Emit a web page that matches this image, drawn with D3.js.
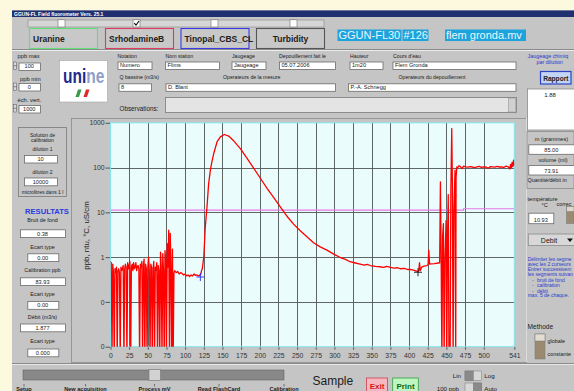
<!DOCTYPE html>
<html><head><meta charset="utf-8">
<script src="https://cdn.jsdelivr.net/npm/d3@7"></script>
<style>body{margin:0;background:#fdf9df;overflow:hidden} svg{display:block;font-family:"Liberation Sans",Arial,sans-serif}</style>
</head><body><svg id="c" width="574" height="391"></svg>
<script>
// ---------- DATA ----------
const xTicks = [0,25,50,75,100,125,150,175,200,225,250,275,300,325,350,375,400,425,450,475,500,541];
const yTicks = [0.01,0.1,1,10,100,1000];
const yTickLabels = ["0","0","1","10","100","1000"];
const sigX = [
 0,1,2,3,4,5,6,7,8,9,10,11,12,13,14,15,16,17,18,19,20,21,22,23,24,25,26,27,28,29,30,31,32,33,34,35,36,37,38,39,40,41,42,43,44,45,46,47,48,49,50,51,52,53,54,55,56,57,58,59,60,61,62,63,64,65,66,67,68,69,70,71,72,73,74,75,76,77,78,79,80,81,82,83,84,85,
 86,88,90,92,94,96,98,100,102,104,106,108,110,112,114,116,118,120,121,122,
 123,125,127,129.3,131.5,133.8,136,138.3,142.7,147.2,152.5,158.3,165,174,183,192,201,210,218.5,227.5,236.4,245.3,254.2,263.2,272,281,290,299,
 308,314,321,328,334.5,340,344,348,355,361,366,370,375,380,385,388,394,398,401.5,406,410,412,413,414,415,417,420,424,425.5,426.4,427.5,430,434,437,441,
 442,443,444,445,446,447,448,449.6,450.5,451.5,452.5,453.5,455,456,457.2,458,459,460,461.6,462.5,463,464,
 465,467,469,471,473,476,479,482,485,488,491,494,497,500,503,506,509,512,515,518,521,524,527,530,533,535,536,537,538,539,540,541];
const sigY = [
 0.8,0.75,0.005,0.7,0.45,0.005,0.55,0.45,0.6,0.005,0.5,0.55,0.45,0.005,0.6,0.5,0.55,0.65,0.005,0.55,0.7,0.6,0.005,0.75,0.55,0.65,0.8,0.005,0.6,0.7,0.5,0.75,0.55,0.6,0.75,0.5,0.62,0.65,0.55,0.005,0.7,0.6,0.8,0.005,0.65,0.9,0.005,0.7,0.55,0.005,0.6,1.0,0.5,0.005,0.7,0.6,0.005,0.55,0.8,0.005,0.6,0.5,0.75,0.005,0.65,0.5,0.005,1.3,0.6,0.005,1.2,0.5,0.005,1.4,0.8,0.005,2.0,0.6,4.0,0.005,3.4,0.7,0.005,1.5,0.005,0.45,
 0.5,0.45,0.48,0.42,0.45,0.43,0.4,0.42,0.38,0.4,0.37,0.4,0.38,0.42,0.39,0.4,0.38,0.4,0.42,0.5,
 0.55,1.0,4.75,13.3,44,88,140,206,373,486,548,505,396,266,160,96,57,34,21.5,13.3,8.2,5.45,3.87,2.84,2.09,1.70,1.43,1.17,
 0.98,0.9,0.79,0.74,0.70,0.66,0.69,0.65,0.62,0.61,0.59,0.62,0.59,0.57,0.58,0.55,0.56,0.53,0.53,0.51,0.49,0.48,0.5,0.75,0.5,0.6,0.63,0.65,0.68,1.43,0.7,0.71,0.72,0.73,0.75,
 48,0.9,0.005,3,5.6,0.005,0.8,6.5,0.005,2.5,25,0.005,0.005,30,745,50,0.005,10,88,0.005,60,103,
 98,110,104,95,108,104,102,105,103,100,104,106,101,104,103,97,105,104,102,106,103,104,100,108,104,93,118,100,130,105,147,110];
const refX = [0,473,473,541];
const refY = [11.2,11.2,12,12];
const cursorX = [120.4, 412];
const cursorY = [0.36, 0.46];
const cursorColors = ["#2030ff","#111"];
const dyes = ["Uranine","SrhodamineB","Tinopal_CBS_CL","Turbidity"];
const dyeChecked = [false,true,false,false];

// ---------- DRAW ----------
const svg = d3.select("#c");
const F = '"Liberation Sans",Arial,sans-serif';
function txt(x,y,s,size,opt={}){
  const t = svg.append("text").attr("x",x).attr("y",y).text(s)
    .attr("font-size",size).attr("fill",opt.fill||"#202020")
    .attr("text-anchor",opt.anchor||"start");
  if(opt.bold) t.attr("font-weight","bold");
  return t;
}
function box(x,y,w,h,fill,stroke,sw){
  return svg.append("rect").attr("x",x).attr("y",y).attr("width",w).attr("height",h)
    .attr("fill",fill).attr("stroke",stroke||"none").attr("stroke-width",sw||1);
}
function input(x,y,w,h,s,align){
  box(x+0.5,y+0.5,w,h,"#fff","#6a6a6a",0.8);
  const a = align||"center";
  txt(a==="center"?x+w/2:x+2.5, y+h-1.6, s, 5.6, {anchor:a==="center"?"middle":"start"});
}

// background & window
box(0,0,574,391,"#fdf9df");
box(12,10,562,381,"#c5c5c5");
box(12,10.5,562,6.5,"#1f2f70");
txt(14,15.8,"GGUN-FL Field fluorometer Vers. 25.1",5,{fill:"#fff",bold:true});

// checkbox bar
box(28,20,296,7,"#d6d6d6","#8a8a8a",0.6);
[58,133,211,290].forEach((cx,i)=>{
  box(cx,19.8,7,7.2,"#fff","#707070",0.6);
  if(dyeChecked[i]) svg.append("path").attr("d",`M${cx+1.3},${23.2} L${cx+3},${25.2} L${cx+6},${21}`)
     .attr("fill","none").attr("stroke","#000").attr("stroke-width",1.1);
});
// dye buttons
const dyeX=[29.5,105.5,181,256.5], dyeCol=["#5ee07a","#e03a60","#3a3ae6","#555"];
dyes.forEach((d,i)=>{
  box(dyeX[i],28.5,68,20,"#c8c8c8",dyeCol[i],1.1);
  if(i===3){ txt(dyeX[i]+34,41.5,d,8.5,{bold:true,anchor:"middle"}); }
  else txt(dyeX[i]+3.5,41.5,d,8.5,{bold:true});
});
// cyan labels
[[337.5,64,"GGUN-FL30"],[402.5,26,"#126"],[445,81,"flem gronda.mv"]].forEach(([x,w,s])=>{
  box(x,29.5,w,11.5,"#1ea4dc");
  txt(x+1,39.3,s,11,{fill:"#eaf6ff"});
});
// separator
svg.append("line").attr("x1",12).attr("x2",574).attr("y1",49.5).attr("y2",49.5).attr("stroke","#8a8a8a");
svg.append("line").attr("x1",12).attr("x2",574).attr("y1",50.5).attr("y2",50.5).attr("stroke","#ececec");

// form labels
const lab = 5.2;
txt(17.5,58,"ppb max",5.8);
txt(117.5,57.5,"Notation",lab); txt(165.5,57.5,"Nom station",lab); txt(232,57.5,"Jaugeage",lab);
txt(279,57.5,"Depouillement fait le",lab); txt(350,57.5,"Hauteur",lab); txt(393,57.5,"Cours d'eau",lab);
txt(527.5,57.5,"Jaugeage chimiq",5.4,{fill:"#2a3ad0"}); txt(536.5,64,"par dilution",5.4,{fill:"#2a3ad0"});
// spinners
[62,83,104.5].forEach(y=>{box(13.5,y,3,7.5,"#d8d8d8","#555",0.5); svg.append("line").attr("x1",13.5).attr("x2",16.5).attr("y1",y+3.75).attr("y2",y+3.75).attr("stroke","#333").attr("stroke-width",0.5);});
input(18.5,62.5,21.5,7.5,"100");
input(117.5,61.5,34,7.5,"Numero","left");
input(165,61.5,54,7.5,"Flims","left");
input(231.5,61.5,34,7.5,"Jaugeage","left");
input(279,61.5,56,7.5,"05.07.2006","left");
input(349.5,61.5,33,7.5,"1m20","left");
input(392.5,61.5,123,7.5,"Flem Gronda","left");
txt(20,80.7,"ppb min",5.8);
txt(119.5,79.3,"Q bassine (m3/s)",lab); txt(223,79.3,"Operateurs de la mesure",lab); txt(398.5,79.3,"Operateurs du depouillement",lab);
input(18.5,83,21.5,7.5,"0");
input(118.5,83.3,32.5,7.5,"8","left");
input(165.5,83.3,169.5,7.5,"D. Blant","left");
input(348,83.3,167.5,7.5,"P.-A. Schnegg","left");
txt(17.5,102.3,"éch. vert.",5.8);
input(18.5,105,21.5,7.5,"1000");
txt(119.5,111.3,"Observations:",6.3);
box(165.5,97.5,351,15,"#e4e4e4","#7a7a7a",0.8);
box(508.5,98,7,14,"#d0d0d0","#888",0.5);
// logo
box(59.5,60.5,48,41.5,"#fff","#9a9a9a",0.5);
const lg = svg.append("text").attr("transform","translate(63,83) scale(1,1.3)")
  .attr("font-size",15.5).attr("font-weight","bold");
lg.append("tspan").text("uni").attr("fill","#1c2a8c");
lg.append("tspan").text("ne").attr("fill","#8fa0c8");
svg.append("path").attr("d","M78,89.5 L81.5,89.5 L79,97 L75.5,97 Z").attr("fill","#3a9a4a");
svg.append("path").attr("d","M86,89.5 L89.5,89.5 L87,97 L83.5,97 Z").attr("fill","#e02a2a");
// Rapport + 1.88
box(540.5,71.5,30.5,12.5,"#c4d4f4","#2a44c8",1.2);
txt(555.8,80.8,"Rapport",6.6,{bold:true,anchor:"middle"});
box(527.5,89,47,41,"#fff","#8a8a8a",0.8);
txt(550,96.5,"1.88",6,{anchor:"middle"});

// chart panel frame
box(71.5,118.5,455,244,"none","#8a8a8a",0.8);
svg.append("line").attr("x1",526.5).attr("x2",526.5).attr("y1",118).attr("y2",362).attr("stroke","#eee").attr("stroke-width",0.8);

// left column
box(18.5,127.5,48,69,"none","#7a7a7a",0.8);
txt(42.5,136.7,"Solution de",5,{anchor:"middle"});
txt(42.5,142,"calibration",5,{anchor:"middle"});
txt(42.5,150.7,"dilution 1",5,{anchor:"middle"});
input(24,155,33,7.5,"10");
txt(42.5,174,"dilution 2",5,{anchor:"middle"});
input(24,177.5,33,7.8,"10000");
txt(42.5,194,"microlitres dans 1 l",5,{anchor:"middle"});
txt(47,213.7,"RESULTATS",7.6,{bold:true,fill:"#2a3ae0",anchor:"middle"});
const res = [["Bruit de fond",222.3,"0.38",229.3,true],["Ecart type",249.3,"0.00",253.3,false],
  ["Calibration ppb",272.3,"83.93",277.3,true],["Ecart type",295.7,"0.00",301,false],
  ["Débit (m3/s)",319,"1.877",323.5,true],["Ecart type",343.3,"0.000",348.5,false]];
res.forEach(([l,ly,v,vy,wide])=>{
  txt(42.5,ly,l,5.4,{anchor:"middle"});
  if(wide) input(20,vy,45,7.8,v); else input(27.3,vy,31,7.8,v);
});

// ---------- CHART ----------
const x = d3.scaleLinear().domain([0,541]).range([110.5,514.3]);
const y = d3.scaleLog().domain([0.01,1000]).range([346.7,122.8]);
const P = {l:110.5,r:514.3,t:122.8,b:346.7};
svg.append("defs").append("clipPath").attr("id","clip").append("rect")
  .attr("x",P.l).attr("y",P.t).attr("width",P.r-P.l).attr("height",P.b-P.t);
box(P.l,P.t,P.r-P.l,P.b-P.t,"#eafcfc");
const g = svg.append("g");
// grid
g.selectAll(".vg").data(xTicks.slice(1,-1)).join("line")
  .attr("x1",d=>Math.round(x(d))+0.5).attr("x2",d=>Math.round(x(d))+0.5).attr("y1",P.t).attr("y2",P.b)
  .attr("stroke","#4e5656").attr("stroke-width",0.9);
g.selectAll(".hg").data(yTicks.slice(1,-1)).join("line")
  .attr("x1",P.l).attr("x2",P.r).attr("y1",d=>Math.round(y(d))+0.5).attr("y2",d=>Math.round(y(d))+0.5)
  .attr("stroke","#4e5656").attr("stroke-width",0.9);
// axes
const ya = d3.axisLeft(y).tickValues(yTicks).tickFormat((d,i)=>yTickLabels[i]).tickSize(5).tickPadding(1);
const xa = d3.axisBottom(x).tickValues(xTicks).tickFormat(d3.format("d")).tickSize(3).tickPadding(3);
const gy = svg.append("g").attr("transform",`translate(${P.l},0)`).call(ya);
const gx = svg.append("g").attr("transform",`translate(0,${P.b})`).call(xa);
[gy,gx].forEach(a=>{a.select(".domain").remove(); a.selectAll("line").attr("stroke","#555");
  a.selectAll("text").attr("font-size",6.8).attr("fill","#333").attr("font-family",F);});
box(P.l,P.t,P.r-P.l,P.b-P.t,"none","#86e4ec",1);
svg.append("text").attr("transform","translate(89,235.5) rotate(-90)").attr("text-anchor","middle")
  .attr("font-size",7.9).attr("fill","#222").text("ppb, ntu, °C, uS/cm");

// series
const pts = sigX.map((d,i)=>[d,sigY[i]]);
const line = d3.line().x(d=>x(d[0])).y(d=>y(Math.max(d[1],0.004)));
const cg = svg.append("g").attr("clip-path","url(#clip)");
cg.append("path").datum(refX.map((d,i)=>[d,refY[i]])).attr("d",line)
  .attr("fill","none").attr("stroke","#e878e8").attr("stroke-width",1.1);
cg.append("path").datum(pts).attr("d",line).attr("fill","none").attr("stroke","#ff0000")
  .attr("stroke-width",1.3).attr("stroke-linejoin","round");
cursorX.forEach((cx,i)=>{
  const px=x(cx), py=y(cursorY[i]);
  cg.append("path").attr("d",`M${px-4},${py}H${px+4}M${px},${py-4}V${py+4}`).attr("stroke",cursorColors[i]).attr("stroke-width",0.9);
});

// ---------- RIGHT COLUMN ----------
box(527,131.5,47,57,"none","#8a8a8a",0.8);
txt(551.5,141,"m (grammes)",5.6,{anchor:"middle"});
input(528.3,144.3,46,9.5,"85.00");
txt(553,161.7,"volume (ml)",5.6,{anchor:"middle"});
input(528.3,165,46,9.5,"73.91");
txt(527.5,182.3,"Quantité/débit in",5.4);
txt(527.5,201,"température",5.6);
txt(541.5,207,"°C",5.6); txt(556.5,206,"correc",5.4);
input(528.3,212.7,25,10.5,"10.93");
box(566.5,206.5,7.5,17,"#9a8a70","#777",0.5); box(566.5,206.5,7.5,5,"#ddd8cc","#777",0.5);
box(528.3,234,47,11.5,"#d8d8d8","#8a8a8a",0.8);
txt(549,242.5,"Debit",7,{anchor:"middle"});
svg.append("path").attr("d","M567,238.5 L573,238.5 L570,242 Z").attr("fill","#111");
const blue = ["Délimiter les segme","avec les 2 curseurs","Entrer successivem","les segments suivan",
  "bruit de fond","calibration","débit","max. 5 de chaque."];
const bY=[261,266,270.7,275.7,281.7,287.3,292.7,297.3];
const bX=[527.7,527.7,527.7,527.7,537,537,537,527.7];
blue.forEach((s,i)=>{
  txt(bX[i],bY[i],s,5,{fill:"#2a3ad0"});
  if(i>=4 && i<=6) txt(532,bY[i],"-",5,{fill:"#2a3ad0"});
});
txt(527.5,329,"Methode",6.6);
box(535,334,10,25,"#9a8a70","#777",0.5); box(535,334,10,7,"#e2ddd0","#777",0.5);
txt(547.5,342.5,"globale",5.4); txt(547.5,355.5,"constante",5.4);

// ---------- BOTTOM ----------
svg.append("line").attr("x1",12).attr("x2",574).attr("y1",363.5).attr("y2",363.5).attr("stroke","#8a8a8a");
svg.append("line").attr("x1",12).attr("x2",574).attr("y1",364.5).attr("y2",364.5).attr("stroke","#e8e8e8");
box(23,370,261,10,"#888","#666",0.6);
box(149,369.5,11.5,11,"#d2d2d2","#777",0.6);
[["Setup",24],["New acquisition",85.5],["Process mV",154.5],["Read FlashCard",219],["Calibration",284]].forEach(([s,cx])=>{
  svg.append("line").attr("x1",cx).attr("x2",cx).attr("y1",384).attr("y2",386.5).attr("stroke","#333").attr("stroke-width",0.6);
  txt(cx,391,s,5.6,{bold:true,anchor:"middle"});
});
txt(312.5,385.3,"Sample",12);
box(366.5,378,21,13.5,"#f6b8c0","#d04050",0.8);
txt(377,388.6,"Exit",8,{bold:true,fill:"#d01818",anchor:"middle"});
box(392.7,378,25.6,13.5,"#bff5c0","#30a040",0.8);
txt(405.5,388.6,"Print",8,{bold:true,fill:"#0b6a1a",anchor:"middle"});
txt(452.7,378.3,"Lin",6.2); txt(484.3,378.3,"Log",6.2);
box(465,371,16.7,9.7,"#d8d8d8","#777",0.5); box(465,371,8.3,9.7,"#8a8a8a","#777",0.5);
txt(436.7,391,"100 ppb",6.2); txt(484.3,391,"Auto",6.2);
box(465,383,16.7,9,"#d8d8d8","#777",0.5); box(473.3,383,8.3,9,"#8a8a8a","#777",0.5);
</script></body></html>
